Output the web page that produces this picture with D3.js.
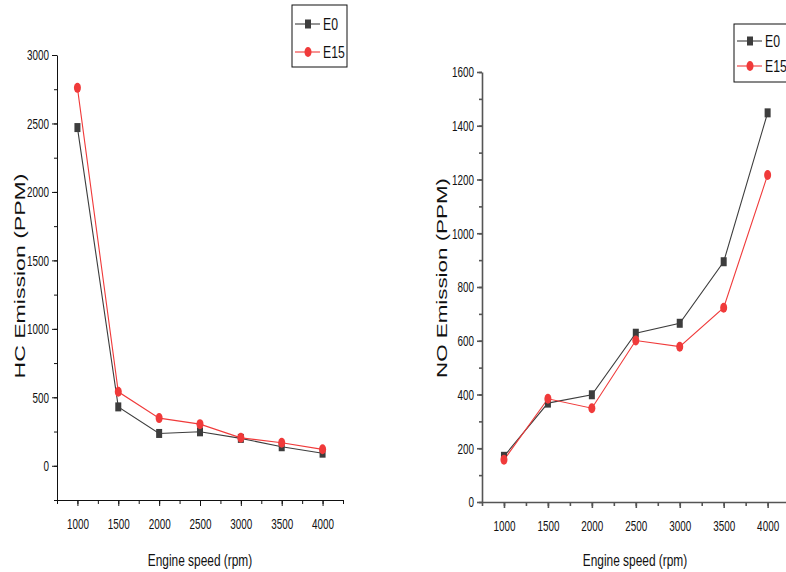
<!DOCTYPE html>
<html>
<head>
<meta charset="utf-8">
<script src="https://cdn.jsdelivr.net/npm/d3@7"></script>
<style>
  body { margin: 0; background: #fff; }
  svg { display: block; }
  text { font-family: "Liberation Sans", Arial, sans-serif; }
</style>
</head>
<body>
<div id="chart"></div>
<script>
// Datos
const speeds = [1000, 1500, 2000, 2500, 3000, 3500, 4000];
const speedTicks = [1000, 1500, 2000, 2500, 3000, 3500, 4000];
const seriesNames = ['E0', 'E15'];

const hcE0 = [2470, 430, 236, 248, 200, 139, 92];
const hcE15 = [2760, 540, 348, 304, 204, 168, 120];
const hcTicks = [0, 500, 1000, 1500, 2000, 2500, 3000];

const noE0 = [170, 368, 399, 628, 665, 894, 1448];
const noE15 = [157, 384, 349, 601, 578, 723, 1217];
const noTicks = [0, 200, 400, 600, 800, 1000, 1200, 1400, 1600];

const colors = { E0: '#3d3d3d', E15: '#f03a3a' };

const width = 786;
const height = 572;

const svg = d3.select('#chart').append('svg')
    .attr('width', width)
    .attr('height', height);

// Estrecha el texto (imita una fuente condensada)
function squeeze(sel, sx) {
    sel.each(function() {
        const w = this.getComputedTextLength();
        d3.select(this)
            .attr('textLength', w * sx)
            .attr('lengthAdjust', 'spacingAndGlyphs');
    });
}

function drawPanel(cfg) {
    const g = svg.append('g');

    const x = d3.scaleLinear().domain(cfg.xDomain).range(cfg.xRange);
    const y = d3.scaleLinear().domain(cfg.yDomain).range(cfg.yRange);

    const minorX = d3.range(cfg.xDomain[0], cfg.xDomain[1] + 1, 250);
    const minorY = d3.range(cfg.yDomain[0], cfg.yDomain[1] + 1, cfg.yMinor);

    // Eje X
    g.append('g')
        .attr('transform', `translate(0,${cfg.yRange[0]})`)
        .call(d3.axisBottom(x).tickValues(speedTicks).tickFormat(d3.format('d'))
            .tickSize(6).tickPadding(12).tickSizeOuter(0));
    g.append('g')
        .attr('transform', `translate(0,${cfg.yRange[0]})`)
        .call(d3.axisBottom(x).tickValues(minorX).tickSize(4).tickFormat('').tickSizeOuter(0))
        .select('.domain').remove();

    // Eje Y
    g.append('g')
        .attr('transform', `translate(${cfg.xRange[0]},0)`)
        .call(d3.axisLeft(y).tickValues(cfg.yTicks).tickFormat(d3.format('d'))
            .tickSize(5).tickPadding(3).tickSizeOuter(0));
    g.append('g')
        .attr('transform', `translate(${cfg.xRange[0]},0)`)
        .call(d3.axisLeft(y).tickValues(minorY).tickSize(3).tickFormat('').tickSizeOuter(0))
        .select('.domain').remove();

    g.selectAll('.domain, .tick line')
        .attr('stroke', cfg.axisColor)
        .attr('stroke-width', cfg.axisWidth);
    g.selectAll('.tick text')
        .attr('fill', '#111')
        .style('font-size', '15px')
        .call(squeeze, 0.66);

    // Titulos de ejes
    g.append('text')
        .attr('x', cfg.xTitleX)
        .attr('y', 566)
        .attr('text-anchor', 'middle')
        .attr('fill', '#111')
        .style('font-size', '17px')
        .text('Engine speed (rpm)')
        .call(squeeze, 0.7);

    g.append('text')
        .attr('transform', `translate(${cfg.yTitleX},${cfg.yTitleY}) rotate(-90)`)
        .attr('text-anchor', 'middle')
        .attr('textLength', cfg.yTitleLen)
        .attr('lengthAdjust', 'spacingAndGlyphs')
        .attr('fill', '#111')
        .style('font-size', '15px')
        .text(cfg.yTitle);

    // Series
    const line = d3.line()
        .x((d, i) => x(speeds[i]))
        .y(d => y(d));

    cfg.series.forEach((vals, si) => {
        const name = seriesNames[si];
        g.append('path')
            .datum(vals)
            .attr('fill', 'none')
            .attr('stroke', colors[name])
            .attr('stroke-width', 1.1)
            .attr('d', line);
    });

    // E0 cuadrados
    g.selectAll('.sq')
        .data(cfg.series[0])
        .enter()
        .append('rect')
        .attr('class', 'sq')
        .attr('x', (d, i) => x(speeds[i]) - 3)
        .attr('y', d => y(d) - 4.5)
        .attr('width', 6)
        .attr('height', 9)
        .attr('fill', colors.E0);

    // E15 circulos
    g.selectAll('.ci')
        .data(cfg.series[1])
        .enter()
        .append('ellipse')
        .attr('class', 'ci')
        .attr('cx', (d, i) => x(speeds[i]))
        .attr('cy', d => y(d))
        .attr('rx', 3.5)
        .attr('ry', 5)
        .attr('fill', colors.E15);

    // Leyenda
    const lg = g.append('g')
        .attr('transform', `translate(${cfg.legend[0]},${cfg.legend[1]})`);
    lg.append('rect')
        .attr('width', cfg.legend[2])
        .attr('height', cfg.legend[3])
        .attr('fill', '#fff')
        .attr('stroke', '#111')
        .attr('stroke-width', 1);
    seriesNames.forEach((name, i) => {
        const ly = cfg.legendRows[i];
        lg.append('line')
            .attr('x1', 3).attr('x2', 28)
            .attr('y1', ly).attr('y2', ly)
            .attr('stroke', colors[name])
            .attr('stroke-width', 1.1);
        if (name === 'E0') {
            lg.append('rect')
                .attr('x', 13).attr('y', ly - 4.5)
                .attr('width', 6).attr('height', 9)
                .attr('fill', colors[name]);
        } else {
            lg.append('ellipse')
                .attr('cx', 16).attr('cy', ly)
                .attr('rx', 3.5).attr('ry', 5)
                .attr('fill', colors[name]);
        }
        lg.append('text')
            .attr('x', 31)
            .attr('y', ly + 6)
            .attr('fill', '#111')
            .style('font-size', '17px')
            .text(name)
            .call(squeeze, 0.72);
    });
}

drawPanel({
    xDomain: [750, 4250], xRange: [57, 343],
    yDomain: [-250, 3000], yRange: [500, 55],
    yTicks: hcTicks, yMinor: 250,
    axisColor: '#111', axisWidth: 1,
    xTitleX: 200,
    yTitle: 'HC  Emission (PPM)', yTitleX: 25, yTitleY: 276, yTitleLen: 205,
    series: [hcE0, hcE15],
    legend: [292, 5, 55, 62], legendRows: [19, 47]
});

drawPanel({
    xDomain: [750, 4250], xRange: [482, 789.6],
    yDomain: [0, 1600], yRange: [502, 72],
    yTicks: noTicks, yMinor: 100,
    axisColor: '#555', axisWidth: 1.6,
    xTitleX: 635,
    yTitle: 'NO Emission (PPM)', yTitleX: 447, yTitleY: 278, yTitleLen: 200,
    series: [noE0, noE15],
    legend: [734, 24, 60, 58], legendRows: [17, 42]
});
</script>
</body>
</html>
